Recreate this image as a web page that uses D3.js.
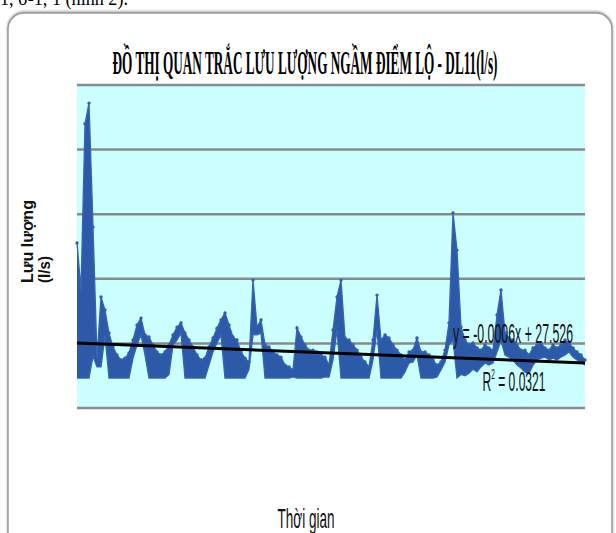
<!DOCTYPE html>
<html>
<head>
<meta charset="utf-8">
<script src="https://cdn.jsdelivr.net/npm/d3@7"></script>
<style>
  body { margin: 0; background: #fff; }
  svg { display: block; }
</style>
</head>
<body>
<svg id="chart" width="616" height="533"></svg>
<script>
/* DATA (l/s) */
// upper edge of the dense daily swing
const flowHigh = [
  63.9, 45.7, 110, 118, 70, 19.7, 43.0, 37.9, 29.0, 23.6,
  20.5, 18.6, 19.3, 21.3, 26.3, 32.1, 34.8, 28.3, 27.5, 24.4,
  21.7, 20.5, 21.7, 24.4, 28.3, 31.3, 32.9, 29.0, 26.3, 23.6,
  20.5, 18.6, 19.3, 23.6, 27.1, 30.9, 34.1, 36.8, 32.1, 27.5,
  26.3, 21.7, 19.3, 17.8, 49.5, 31.3, 34.1, 24.4, 23.6, 21.7,
  20.5, 19.7, 16.6, 15.9, 14.7, 31.0, 27.5, 24.4, 22.4, 22.4,
  21.7, 20.5, 19.7, 16.6, 30.2, 43.0, 49.5, 27.1, 26.3, 24.4,
  22.4, 19.7, 17.8, 15.9, 26.3, 43.7, 26.3, 28.3, 27.1, 24.4,
  22.4, 20.5, 18.6, 21.7, 22.4, 27.1, 21.7, 21.7, 20.5, 18.6,
  16.6, 17.8, 22.4, 32.9, 75.5, 61.1, 31.3, 26.3, 24.4, 25.2,
  23.2, 22.4, 24.4, 23.2, 22.4, 36.0, 45.7, 29.0, 27.1, 26.3,
  24.4, 22.4, 22.4, 20.5, 23.2, 24.4, 25.2, 23.2, 22.4, 24.4,
  23.2, 24.4, 26.3, 25.2, 23.2, 21.7, 20.5, 18.6
];
// lower edge of the dense daily swing
const flowLow = [
  11.6, 11.6, 11.6, 11.6, 20.0, 15.9, 15.9, 28.0, 11.6, 11.6,
  11.6, 11.6, 11.6, 11.6, 19.3, 24.4, 28.3, 20.5, 11.6, 11.6,
  11.6, 11.6, 11.6, 13.0, 24.4, 26.3, 29.0, 11.6, 11.6, 11.6,
  11.6, 11.6, 11.6, 16.6, 21.7, 25.2, 28.3, 11.6, 11.6, 11.6,
  11.6, 11.6, 11.6, 15.0, 28.3, 28.3, 29.0, 11.6, 11.6, 11.6,
  11.6, 11.6, 11.6, 11.6, 12.0, 11.6, 11.6, 11.6, 11.6, 11.6,
  11.6, 11.6, 12.0, 12.0, 18.6, 30.2, 11.6, 11.6, 11.6, 11.6,
  11.6, 11.6, 11.6, 11.6, 18.6, 30.2, 11.6, 11.6, 11.6, 11.6,
  11.6, 11.6, 14.0, 17.4, 17.8, 20.5, 11.6, 11.6, 11.6, 11.6,
  12.0, 14.7, 17.8, 24.4, 26.3, 11.6, 13.0, 12.5, 13.5, 15.0,
  14.0, 15.9, 17.4, 16.6, 17.4, 21.7, 26.3, 20.5, 19.7, 18.6,
  16.6, 15.5, 13.9, 13.5, 16.6, 18.6, 19.3, 19.7, 18.6, 19.3,
  18.6, 19.7, 20.5, 21.7, 19.7, 18.6, 17.8, 16.6
];
// linear trend, value at first and last sample
const trendEnds = [25.2, 17.4];
const yTicks = [0, 25, 50, 75, 100, 125];

const titleText = "ĐỒ THỊ QUAN TRẮC LƯU LƯỢNG NGẦM ĐIỂM LỘ - DL11(l/s)";
const yLabelLines = ["Lưu lượng", "(l/s)"];
const xLabelText = "Thời gian";
const eqText = "y = -0.0006x + 27.526";
const r2Value = "0.0321";

const plot = { left: 77, right: 585, top: 85, bottom: 408 };

const svg = d3.select("#chart");

// text of the page above the chart (cut off at top)
svg.append("text")
    .attr("x", 0).attr("y", 5)
    .attr("font-family", "Liberation Serif")
    .attr("font-size", 20)
    .attr("textLength", 128)
    .attr("lengthAdjust", "spacingAndGlyphs")
    .text("1, ở-1, 1 (hình 2).");

// chart frame with a soft shadow
const defs = svg.append("defs");
const shadow = defs.append("filter").attr("id", "shadow")
    .attr("x", "-5%").attr("y", "-5%").attr("width", "110%").attr("height", "110%");
shadow.append("feDropShadow")
    .attr("dx", 0).attr("dy", -1).attr("stdDeviation", 1.2)
    .attr("flood-color", "#666").attr("flood-opacity", 0.6);

svg.append("rect")
    .attr("x", 8).attr("y", 13)
    .attr("width", 604).attr("height", 560)
    .attr("rx", 16)
    .attr("fill", "#fff")
    .attr("stroke", "#9a9a9a")
    .attr("stroke-width", 1.5)
    .attr("filter", "url(#shadow)");

/* SCALES */
const x = d3.scaleLinear()
    .domain([0, flowHigh.length - 1])
    .range([plot.left, plot.right]);

const y = d3.scaleLinear()
    .domain([0, 125])
    .range([plot.bottom, plot.top]);

// plot background
svg.append("rect")
    .attr("x", plot.left).attr("y", plot.top)
    .attr("width", plot.right - plot.left)
    .attr("height", plot.bottom - plot.top)
    .attr("fill", "#ccffff");

// GRIDLINES
svg.append("g")
    .selectAll("line")
    .data(yTicks)
    .join("line")
    .attr("x1", plot.left).attr("x2", plot.right)
    .attr("y1", d => y(d)).attr("y2", d => y(d))
    .attr("stroke", "#8a8a8a")
    .attr("stroke-width", 2.5);

// DENSE SWING (filled band between low and high)
const rows = flowHigh.map((h, i) => ({ i, hi: h, lo: flowLow[i] }));

svg.append("path")
    .datum(rows)
    .attr("fill", "#2c5aa8")
    .attr("d", d3.area()
        .x(d => x(d.i))
        .y0(d => y(d.lo))
        .y1(d => y(d.hi)));

svg.append("path")
    .datum(rows)
    .attr("fill", "none")
    .attr("stroke", "#3464b6")
    .attr("stroke-width", 1.3)
    .attr("d", d3.line().x(d => x(d.i)).y(d => y(d.hi)));

svg.append("path")
    .datum(rows)
    .attr("fill", "none")
    .attr("stroke", "#3464b6")
    .attr("stroke-width", 1.3)
    .attr("d", d3.line().x(d => x(d.i)).y(d => y(d.lo)));

// markers
svg.append("g")
    .selectAll("circle")
    .data(rows)
    .join("circle")
    .attr("cx", d => x(d.i))
    .attr("cy", d => y(d.hi))
    .attr("r", 1.7)
    .attr("fill", "#2f5fb0");

// TREND LINE
svg.append("line")
    .attr("x1", x(0)).attr("y1", y(trendEnds[0]))
    .attr("x2", x(flowHigh.length - 1)).attr("y2", y(trendEnds[1]))
    .attr("stroke", "#000")
    .attr("stroke-width", 3);

// equation labels
svg.append("text")
    .attr("x", 513).attr("y", 343)
    .attr("text-anchor", "middle")
    .attr("font-family", "Liberation Sans")
    .attr("font-size", 28)
    .attr("textLength", 120)
    .attr("lengthAdjust", "spacingAndGlyphs")
    .attr("fill", "#111")
    .text(eqText);

const r2 = svg.append("text")
    .attr("x", 514).attr("y", 391)
    .attr("text-anchor", "middle")
    .attr("font-family", "Liberation Sans")
    .attr("font-size", 28)
    .attr("textLength", 63)
    .attr("lengthAdjust", "spacingAndGlyphs")
    .attr("fill", "#111");
r2.append("tspan").text("R");
r2.append("tspan").attr("font-size", 15).attr("dy", -12).text("2");
r2.append("tspan").attr("dy", 12).text(" = " + r2Value);

// TITLE
svg.append("text")
    .attr("x", 305).attr("y", 74)
    .attr("text-anchor", "middle")
    .attr("font-family", "Liberation Serif")
    .attr("font-weight", "bold")
    .attr("font-size", 34)
    .attr("textLength", 385)
    .attr("lengthAdjust", "spacingAndGlyphs")
    .attr("fill", "#000")
    .text(titleText);

// AXIS LABELS
svg.append("g")
    .selectAll("text")
    .data(yLabelLines)
    .join("text")
    .attr("transform", (d, i) => `translate(${[33, 50][i]}, 283) rotate(-90)`)
    .attr("font-family", "Liberation Sans")
    .attr("font-weight", "bold")
    .attr("font-size", 17)
    .attr("textLength", (d, i) => [83, 27][i])
    .attr("lengthAdjust", "spacingAndGlyphs")
    .attr("fill", "#111")
    .text(d => d);

svg.append("text")
    .attr("x", 306).attr("y", 528)
    .attr("text-anchor", "middle")
    .attr("font-family", "Liberation Sans")
    .attr("font-size", 28)
    .attr("textLength", 57)
    .attr("lengthAdjust", "spacingAndGlyphs")
    .attr("fill", "#111")
    .text(xLabelText);
</script>
</body>
</html>
